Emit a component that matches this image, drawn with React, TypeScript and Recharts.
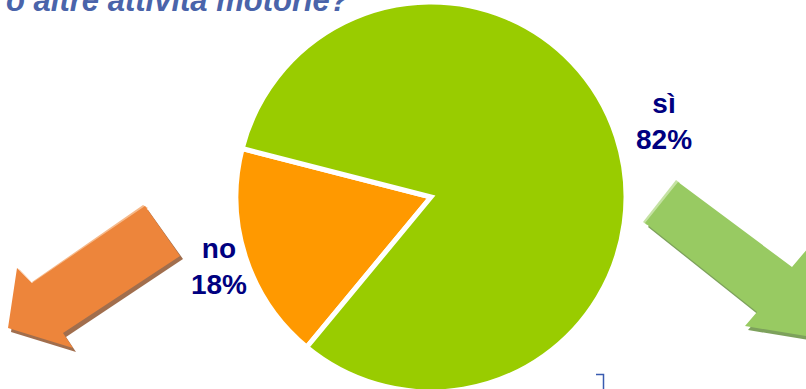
import React from "react";
import { Cell, Pie, PieChart } from "recharts";

const categories = ["no", "sì"];
const values = [18, 82];
const colors = ["#ff9900", "#99cc00"];
const titleText = "o altre attività motorie?";

const data = categories.map((name, i) => ({ name, value: values[i] }));

const RAD = Math.PI / 180;
// label distance beyond the outer radius, per slice
const labelGap: Record<string, number> = { no: 28, "sì": 50 };

function renderLabel(props: any) {
  const { cx, cy, midAngle, outerRadius, name, value } = props;
  const r = outerRadius + (labelGap[name] ?? 40);
  const x = cx + r * Math.cos(-midAngle * RAD);
  const y = cy + r * Math.sin(-midAngle * RAD);
  return (
    <text
      x={x}
      y={y - 8}
      textAnchor="middle"
      fill="#000080"
      fontSize={28}
      fontWeight="bold"
      fontFamily="'Liberation Sans', Arial, sans-serif"
    >
      <tspan x={x} dy={0}>{name}</tspan>
      <tspan x={x} dy={36}>{value}%</tspan>
    </text>
  );
}

export default function App() {
  return (
    <div style={{ position: "absolute", left: 0, top: 0, width: 806, height: 389, overflow: "hidden", background: "#fff" }}>
      <PieChart
        width={806}
        height={389}
        margin={{ top: 0, right: 0, bottom: 0, left: 0 }}
        style={{ position: "absolute", left: 0, top: 0 }}
      >
        <Pie
          data={data}
          dataKey="value"
          nameKey="name"
          cx={431}
          cy={197}
          outerRadius={195}
          startAngle={165.6}
          endAngle={525.6}
          stroke="#ffffff"
          strokeWidth={5}
          label={renderLabel}
          labelLine={false}
          isAnimationActive={false}
        >
          {data.map((d, i) => (
            <Cell key={d.name} fill={colors[i]} />
          ))}
        </Pie>
      </PieChart>
      <svg width={806} height={389} style={{ position: "absolute", left: 0, top: 0, pointerEvents: "none" }}>
        <text
          x={6}
          y={11}
          fill="#4a64aa"
          fontSize={31}
          fontWeight="bold"
          fontStyle="italic"
          fontFamily="'Liberation Sans', Arial, sans-serif"
        >
          {titleText}
        </text>
        {/* orange arrow, down-left */}
        <polygon points="148,210 183,259 66,337 76,352 11,332 20,272 35,287" fill="#8a4a20" opacity={0.8} />
        <polygon points="143,205 148,208 35,285 20,270 17,268 32,282" fill="#f6b98a" />
        <polygon points="145,206 180,256 63,333 73,348 8,328 17,268 32,283" fill="#ed853b" />
        {/* green arrow, down-right */}
        <polygon points="681,186 795,271 811,252 833,344 748,330 760,316 648,227" fill="#5d8a33" opacity={0.8} />
        <polygon points="676,180 680,183 647,225 643,222" fill="#c5e2a3" />
        <polygon points="678,182 792,267 808,248 830,340 745,326 757,312 645,223" fill="#98ca62" />
        {/* small bracket */}
        <path d="M596,374.5 H603.5 V389" stroke="#3a5bb0" strokeWidth={1.5} fill="none" />
      </svg>
    </div>
  );
}
